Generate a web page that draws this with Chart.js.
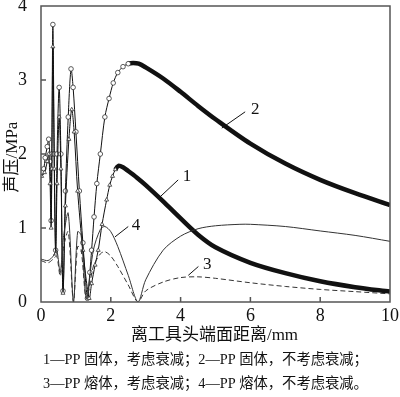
<!DOCTYPE html>
<html>
<head>
<meta charset="utf-8">
<script src="https://cdn.jsdelivr.net/npm/chart.js@4/dist/chart.umd.min.js"></script>
<style>
  html, body { margin: 0; padding: 0; background: #fff; }
  #wrap { width: 400px; height: 397px; }
</style>
</head>
<body>
<div id="wrap"><canvas id="c"></canvas></div>
<script>
// ---- data (x: mm, y: MPa) ----
const xTicks = [0, 2, 4, 6, 8, 10];
const yTicks = [0, 1, 2, 3, 4];

// curve 2: PP solid, no attenuation (circles)
const c2x = [0.02, 0.08, 0.12, 0.18, 0.22, 0.26, 0.29, 0.31, 0.34, 0.38, 0.42, 0.46, 0.52, 0.57, 0.63, 0.7, 0.78, 0.86, 0.92, 1.0, 1.1, 1.2, 1.33,
  1.4, 1.45, 1.52, 1.6, 1.7, 1.83, 1.95, 2.07, 2.2, 2.35, 2.5, 2.64, 2.8, 3, 3.5, 4, 4.5, 5, 6, 7, 8, 9, 10];
const c2y = [1.75, 1.8, 1.95, 2.1, 2.2, 1.9, 1.1, 2.0, 3.75, 2.0, 0.7, 2.0, 2.9, 2.0, 0.15, 1.5, 2.5, 3.15, 2.9, 2.3, 1.5, 0.8, 0.05,
  0.4, 0.7, 1.15, 1.6, 2.0, 2.5, 2.75, 2.96, 3.1, 3.18, 3.22, 3.23, 3.22, 3.17, 3.02, 2.84, 2.65, 2.47, 2.14, 1.87, 1.65, 1.47, 1.31];

// curve 1: PP solid, with attenuation (triangles)
const c1x = [0.02, 0.1, 0.18, 0.22, 0.26, 0.29, 0.31, 0.34, 0.38, 0.42, 0.46, 0.52, 0.57, 0.63, 0.7, 0.8, 0.88, 0.95, 1.05, 1.2, 1.38,
  1.45, 1.55, 1.64, 1.75, 1.88, 1.97, 2.05, 2.13, 2.22, 2.35, 2.5, 2.75, 3, 3.5, 4, 4.5, 5, 6, 7, 8, 9, 10];
const c1y = [1.7, 1.75, 1.9, 2.0, 1.6, 1.0, 1.8, 3.45, 1.8, 0.65, 1.6, 2.5, 1.8, 0.12, 1.3, 2.2, 2.6, 2.3, 1.5, 0.7, 0.05,
  0.25, 0.5, 0.7, 1.05, 1.38, 1.58, 1.7, 1.79, 1.84, 1.82, 1.77, 1.68, 1.58, 1.36, 1.13, 0.91, 0.74, 0.53, 0.39, 0.28, 0.2, 0.14];

// curve 4: PP melt, no attenuation (thin solid)
const c4x = [0, 0.2, 0.35, 0.45, 0.55, 0.65, 0.78, 0.93, 1.05, 1.15, 1.3, 1.5, 1.7, 1.83, 2.0, 2.2, 2.5, 2.78, 3.0, 3.5, 4, 4.5, 5, 5.7, 6, 7, 8, 9, 10];
const c4y = [0.58, 0.56, 0.62, 0.7, 0.4, 0.9, 1.2, 0.0, 0.95, 0.9, 0.05, 0.7, 0.98, 1.02, 0.95, 0.75, 0.36, 0.0, 0.3, 0.7, 0.89, 0.99, 1.03, 1.05, 1.05, 1.02, 0.96, 0.9, 0.82];

// curve 3: PP melt, with attenuation (dashed)
const c3x = [0, 0.2, 0.35, 0.45, 0.55, 0.65, 0.78, 0.93, 1.05, 1.15, 1.3, 1.5, 1.7, 1.83, 2.0, 2.2, 2.5, 2.78, 3.0, 3.5, 4, 4.5, 5, 6, 7, 8, 9, 10];
const c3y = [0.56, 0.53, 0.58, 0.62, 0.35, 0.75, 0.95, 0.0, 0.75, 0.7, 0.04, 0.48, 0.65, 0.68, 0.62, 0.48, 0.23, 0.0, 0.15, 0.27, 0.33, 0.34, 0.32, 0.26, 0.21, 0.17, 0.14, 0.11];

const labels = ['1', '2', '3', '4'];
const xTitle = '离工具头端面距离/mm';
const yTitle = '声压/MPa';
const caption = ['1—PP 固体，考虑衰减；2—PP 固体，不考虑衰减；', '3—PP 熔体，考虑衰减；4—PP 熔体，不考虑衰减。'];

const pts = (xs, ys) => xs.map((x, i) => ({ x, y: ys[i] }));
const serif = "'Liberation Serif', 'Noto Sans CJK SC', serif";
const INK = '#111';

// leader-line annotations, in data coords: [label, x0, y0, x1, y1, textX, textY]
const leaders = [
  ['2', 5.18, 2.35, 5.85, 2.57, 6.02, 2.6],
  ['1', 3.41, 1.42, 3.93, 1.65, 4.06, 1.69],
  ['4', 2.12, 0.88, 2.5, 1.02, 2.6, 1.04],
  ['3', 4.22, 0.36, 4.51, 0.48, 4.64, 0.51],
];

const decor = {
  id: 'decor',
  afterDatasetsDraw(chart) {
    const { ctx, chartArea: a, scales: { x, y } } = chart;
    ctx.save();
    // frame
    ctx.strokeStyle = '#555';
    ctx.lineWidth = 1.5;
    ctx.strokeRect(a.left, a.top, a.right - a.left, a.bottom - a.top);
    // inward ticks
    ctx.beginPath();
    xTicks.slice(1, -1).forEach(v => {
      const px = x.getPixelForValue(v);
      ctx.moveTo(px, a.bottom); ctx.lineTo(px, a.bottom - 5);
    });
    yTicks.slice(1, -1).forEach(v => {
      const py = y.getPixelForValue(v);
      ctx.moveTo(a.left, py); ctx.lineTo(a.left + 5, py);
    });
    ctx.stroke();
    // leaders + curve numbers
    ctx.strokeStyle = INK;
    ctx.lineWidth = 1;
    ctx.fillStyle = INK;
    ctx.font = '17px ' + serif;
    ctx.textAlign = 'left';
    ctx.textBaseline = 'middle';
    leaders.forEach(([t, x0, y0, x1, y1, tx, ty]) => {
      ctx.beginPath();
      ctx.moveTo(x.getPixelForValue(x0), y.getPixelForValue(y0));
      ctx.lineTo(x.getPixelForValue(x1), y.getPixelForValue(y1));
      ctx.stroke();
      ctx.fillText(t, x.getPixelForValue(tx), y.getPixelForValue(ty));
    });
    // axis titles
    ctx.textAlign = 'center';
    ctx.fillText(xTitle, (a.left + a.right) / 2 - 1, 336);
    ctx.save();
    ctx.translate(13, 157);
    ctx.rotate(-Math.PI / 2);
    ctx.fillText(yTitle, 0, 0);
    ctx.restore();
    // caption
    ctx.font = '14.3px ' + serif;
    ctx.textAlign = 'left';
    ctx.fillText(caption[0], 43, 360);
    ctx.fillText(caption[1], 43, 384);
    ctx.restore();
  }
};

const near = (c, lim) => (c.raw && c.raw.x < lim ? 2.3 : 0);

new Chart(document.getElementById('c'), {
  type: 'line',
  data: {
    datasets: [
      {
        label: labels[3], data: pts(c4x, c4y),
        borderColor: '#333', borderWidth: 1, pointRadius: 0, tension: 0.3,
      },
      {
        label: labels[2], data: pts(c3x, c3y),
        borderColor: '#333', borderWidth: 1, borderDash: [5, 3], pointRadius: 0, tension: 0.3,
      },
      {
        label: labels[0], data: pts(c1x, c1y),
        borderColor: INK, pointStyle: 'triangle', pointBackgroundColor: '#fff', pointBorderColor: '#333',
        pointBorderWidth: 0.8, pointRadius: c => near(c, 2.2), tension: 0.3,
        segment: { borderWidth: c => (c.p0.parsed.x >= 2.13 ? 4.5 : 1) },
      },
      {
        label: labels[1], data: pts(c2x, c2y),
        borderColor: INK, pointStyle: 'circle', pointBackgroundColor: '#fff', pointBorderColor: '#333',
        pointBorderWidth: 0.8, pointRadius: c => near(c, 2.6), tension: 0.3,
        segment: { borderWidth: c => (c.p0.parsed.x >= 2.5 ? 4.5 : 1) },
      },
    ],
  },
  options: {
    responsive: true,
    maintainAspectRatio: false,
    animation: false,
    layout: { padding: { top: 6, right: 10, left: 0, bottom: 0 } },
    plugins: { legend: { display: false }, tooltip: { enabled: false } },
    scales: {
      x: {
        type: 'linear', min: 0, max: 10,
        grid: { display: false },
        border: { display: false },
        ticks: { stepSize: 2, padding: -5, color: INK, font: { family: serif, size: 18 } },
        afterFit: s => { s.height = 95; s.paddingLeft = 0; s.paddingRight = 0; },
      },
      y: {
        min: 0, max: 4,
        grid: { display: false },
        border: { display: false },
        ticks: { stepSize: 1, padding: 6, color: INK, font: { family: serif, size: 18 } },
        afterFit: s => { s.width = 41; s.paddingTop = 0; s.paddingBottom = 0; },
      },
    },
  },
  plugins: [decor],
});
</script>
</body>
</html>
